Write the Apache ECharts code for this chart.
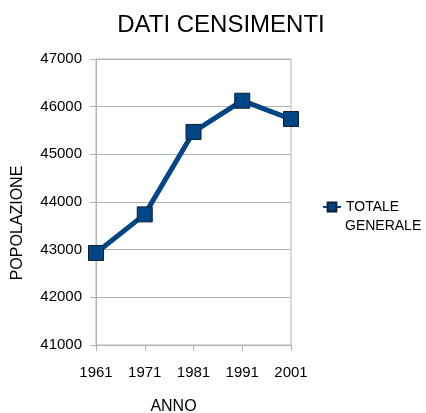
<!DOCTYPE html>
<html>
<head>
<meta charset="utf-8">
<title>DATI CENSIMENTI</title>
<script src="https://cdn.jsdelivr.net/npm/echarts@6/dist/echarts.min.js"></script>
</head>
<body style="margin:0;background:#fff">
<div id="main" style="width:426px;height:413px;"></div>
<script type="text/javascript">
// dati
var anni = ['1961', '1971', '1981', '1991', '2001'];
var popolazione = [42930, 43740, 45470, 46125, 45740];
var nomeSerie = 'TOTALE GENERALE';

var myChart = echarts.init(document.getElementById('main'));

var font = 'Liberation Sans';
var gray = '#b3b3b3';

var option = {
  backgroundColor: '#ffffff',
  animation: false,
  title: {
    text: 'DATI CENSIMENTI',
    left: 216,
    textAlign: 'center',
    top: 8,
    textStyle: { fontFamily: font, fontSize: 24, fontWeight: 'normal', color: '#000' }
  },
  legend: {
    data: [nomeSerie],
    left: 317,
    top: 195,
    itemWidth: 18,
    itemHeight: 11,
    itemGap: 4,
    // la seconda riga della legenda va sotto, come nell'originale
    formatter: function (n) { return n.split(' ')[0]; },
    textStyle: { fontFamily: font, fontSize: 14, color: '#000' }
  },
  graphic: [{
    type: 'text',
    left: 345,
    top: 219,
    style: { text: nomeSerie.split(' ')[1], font: '14px "Liberation Sans"', fill: '#000' }
  }],
  grid: {
    left: 96, right: 135, top: 59, bottom: 68,
    outerBoundsMode: 'none',
    show: true, borderColor: gray, borderWidth: 1
  },
  xAxis: {
    type: 'category',
    data: anni,
    boundaryGap: false,
    name: 'ANNO',
    nameLocation: 'middle',
    nameGap: 54,
    nameTextStyle: { fontFamily: font, fontSize: 16, color: '#000', padding: [0, 40, 0, 0] },
    axisLine: { lineStyle: { color: gray } },
    axisTick: { lineStyle: { color: gray }, length: 6 },
    axisLabel: { fontFamily: font, fontSize: 15, color: '#000', margin: 20 },
    splitLine: { show: false }
  },
  yAxis: {
    type: 'value',
    min: 41000,
    max: 47000,
    interval: 1000,
    name: 'POPOLAZIONE',
    nameLocation: 'middle',
    nameGap: 70,
    nameTextStyle: { fontFamily: font, fontSize: 16, color: '#000', padding: [0, 42, 0, 0] },
    axisLine: { show: true, lineStyle: { color: gray } },
    axisTick: { show: true, lineStyle: { color: gray }, length: 6 },
    axisLabel: { fontFamily: font, fontSize: 15, color: '#000', margin: 14, formatter: function (v) { return String(v); } },
    splitLine: { lineStyle: { color: gray } }
  },
  series: [{
    name: nomeSerie,
    type: 'line',
    data: popolazione,
    symbol: 'rect',
    symbolSize: 15,
    lineStyle: { color: '#004586', width: 5 },
    itemStyle: { color: '#004586', borderColor: '#0d1f33', borderWidth: 1 }
  }]
};

myChart.setOption(option);
</script>
</body>
</html>
